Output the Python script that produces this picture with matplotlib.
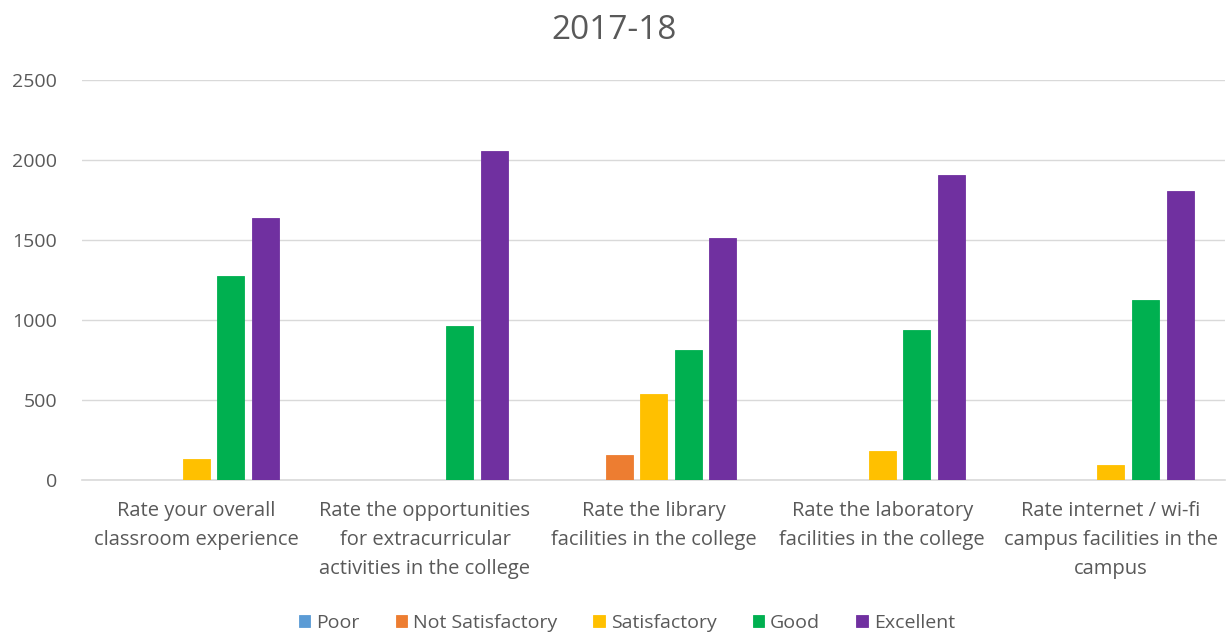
import matplotlib
matplotlib.use("Agg")
import matplotlib.pyplot as plt
import numpy as np

plt.rcParams['font.family'] = ['Open Sans', 'DejaVu Sans']

categories = [
    "Rate your overall\nclassroom experience",
    "Rate the opportunities\nfor extracurricular\nactivities in the college",
    "Rate the library\nfacilities in the college",
    "Rate the laboratory\nfacilities in the college",
    "Rate internet / wi-fi\ncampus facilities in the\ncampus",
]
series_names = ["Poor", "Not Satisfactory", "Satisfactory", "Good", "Excellent"]
poor = [0, 0, 0, 0, 0]
not_satisfactory = [0, 0, 155, 0, 0]
satisfactory = [130, 0, 537, 180, 94]
good = [1275, 962, 812, 937, 1125]
excellent = [1635, 2055, 1510, 1906, 1806]
colors = ["#5B9BD5", "#ED7D31", "#FFC000", "#00B050", "#7030A0"]
yticks = [0, 500, 1000, 1500, 2000, 2500]

values = [poor, not_satisfactory, satisfactory, good, excellent]

fig = plt.figure(figsize=(12.29, 6.32), dpi=100)
ax = fig.add_axes([0.0667, 0.2405, 0.9303, 0.6329])

x = np.arange(len(categories))
step = 0.151
width = 0.118
for i, (name, vals, c) in enumerate(zip(series_names, values, colors)):
    ax.bar(x + (i - 2) * step, vals, width=width, color=c, label=name,
           edgecolor=c, linewidth=0.6, zorder=3)

ax.set_xlim(-0.5, len(categories) - 0.5)
ax.set_ylim(0, 2500)
ax.set_yticks(yticks)
ax.set_yticklabels([str(t) for t in yticks])
ax.yaxis.grid(True, color="#D9D9D9", linewidth=1, zorder=0)
ax.set_xticks(x)
ax.set_xticklabels(categories, fontsize=14.5, color="#595959", linespacing=1.62)
ax.tick_params(axis='x', length=0, pad=15)
ax.tick_params(axis='y', length=0, pad=18, labelsize=14, labelcolor="#595959")
for s in ["top", "right", "left"]:
    ax.spines[s].set_visible(False)
ax.spines["bottom"].set_color("#D9D9D9")
ax.spines["bottom"].set_linewidth(1.2)

fig.suptitle("2017-18", fontsize=24, color="#595959", y=0.978)

fig.legend(loc="lower center", ncol=5, frameon=False, fontsize=14,
           bbox_to_anchor=(0.51, -0.027), handlelength=0.6, handleheight=0.6,
           handletextpad=0.3, columnspacing=1.85, labelcolor="#595959")

fig.savefig("out.png", dpi=100)
